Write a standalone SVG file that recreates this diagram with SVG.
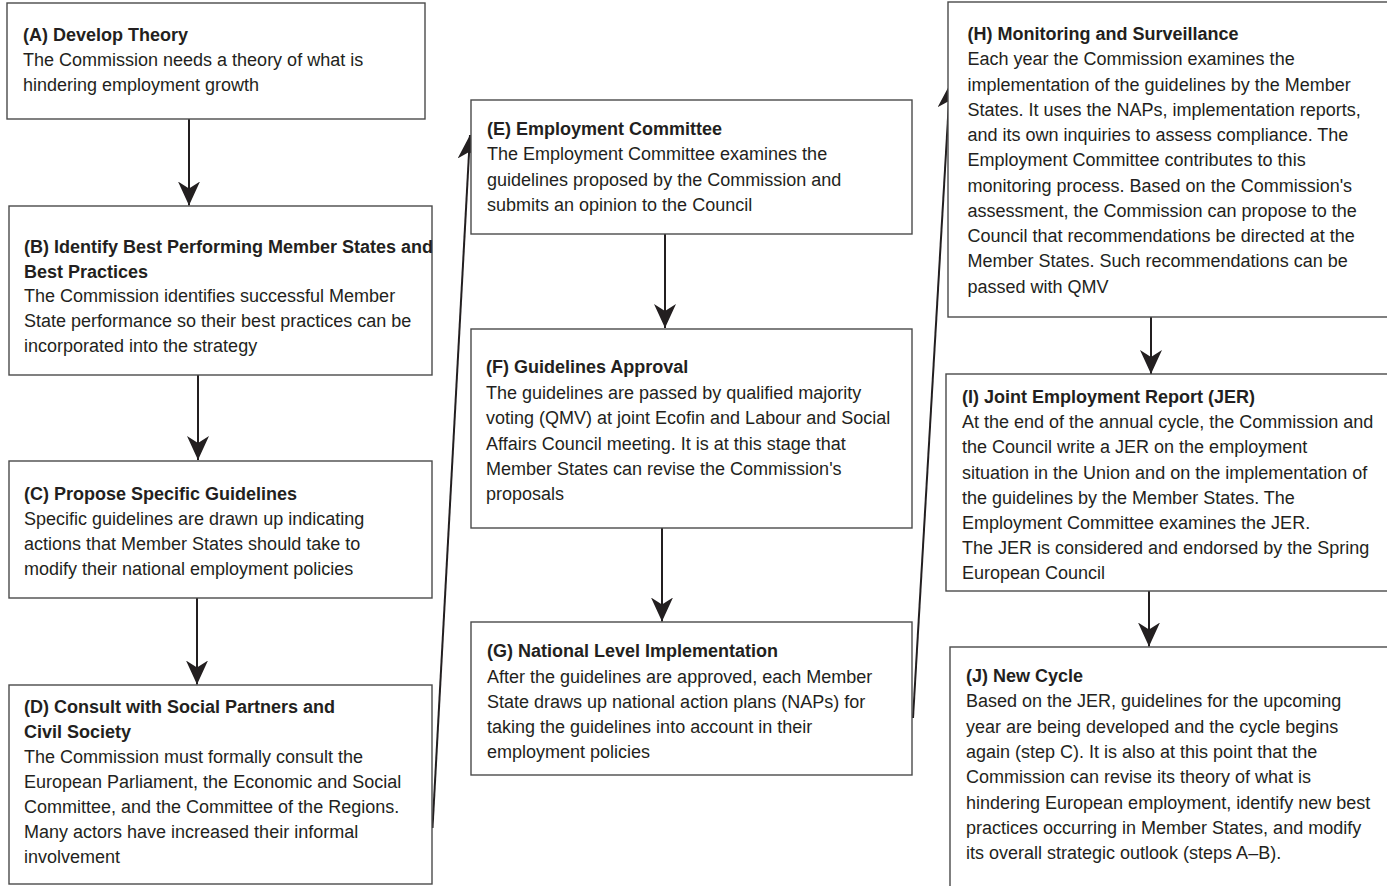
<svg xmlns="http://www.w3.org/2000/svg" width="1387" height="886" viewBox="0 0 1387 886">
<style>
.box{fill:#fff;stroke:#4a4a4a;stroke-width:1.4}
text{font-family:"Liberation Sans",Arial,sans-serif;font-size:18px;fill:#231f20}
.t{font-weight:bold}
.c{stroke:#231f20;stroke-width:2;fill:none;marker-end:url(#ah)}
</style>
<defs>
<marker id="ah" markerUnits="userSpaceOnUse" viewBox="0 0 24 22" markerWidth="24" markerHeight="22" refX="24" refY="11" orient="auto">
<path d="M0,0 L24,11 L0,22 L7,11 Z" fill="#231f20"/>
</marker>
</defs>
<rect width="1387" height="886" fill="#fff"/>
<g id="connectors">
<line class="c" x1="189" y1="119" x2="189" y2="205.5"/>
<line class="c" x1="198" y1="375" x2="198" y2="460"/>
<line class="c" x1="197" y1="598" x2="197" y2="684.5"/>
<line class="c" x1="432.5" y1="828" x2="470" y2="135"/>
<line class="c" x1="665" y1="234" x2="665" y2="328"/>
<line class="c" x1="662" y1="528" x2="662" y2="621.5"/>
<line class="c" x1="913" y1="718" x2="950" y2="84"/>
<line class="c" x1="1151" y1="317" x2="1151" y2="374"/>
<line class="c" x1="1149" y1="591" x2="1149" y2="646.5"/>
</g>
<g id="A">
<rect class="box" x="7" y="3" width="418" height="116"/>
<text x="23"><tspan class="t" y="40.5">(A) Develop Theory</tspan><tspan x="23" y="65.5">The Commission needs a theory of what is</tspan><tspan x="23" y="90.5">hindering employment growth</tspan></text>
</g>
<g id="B">
<rect class="box" x="9" y="206" width="423" height="169"/>
<text x="24"><tspan class="t" y="252.5">(B) Identify Best Performing Member States and</tspan><tspan class="t" x="24" y="277.5">Best Practices</tspan><tspan x="24" y="302">The Commission identifies successful Member</tspan><tspan x="24" y="327">State performance so their best practices can be</tspan><tspan x="24" y="352">incorporated into the strategy</tspan></text>
</g>
<g id="C">
<rect class="box" x="9" y="461" width="423" height="137"/>
<text x="24"><tspan class="t" y="500">(C) Propose Specific Guidelines</tspan><tspan x="24" y="525">Specific guidelines are drawn up indicating</tspan><tspan x="24" y="550">actions that Member States should take to</tspan><tspan x="24" y="575">modify their national employment policies</tspan></text>
</g>
<g id="D">
<rect class="box" x="9" y="685" width="423" height="199"/>
<text x="24"><tspan class="t" y="713">(D) Consult with Social Partners and</tspan><tspan class="t" x="24" y="738">Civil Society</tspan><tspan x="24" y="763">The Commission must formally consult the</tspan><tspan x="24" y="788">European Parliament, the Economic and Social</tspan><tspan x="24" y="813">Committee, and the Committee of the Regions.</tspan><tspan x="24" y="838">Many actors have increased their informal</tspan><tspan x="24" y="863">involvement</tspan></text>
</g>
<g id="E">
<rect class="box" x="471" y="100" width="441" height="134"/>
<text x="487"><tspan class="t" y="135">(E) Employment Committee</tspan><tspan x="487" y="160">The Employment Committee examines the</tspan><tspan x="487" y="185.5">guidelines proposed by the Commission and</tspan><tspan x="487" y="210.5">submits an opinion to the Council</tspan></text>
</g>
<g id="F">
<rect class="box" x="471" y="329" width="441" height="199"/>
<text x="486"><tspan class="t" y="372.5">(F) Guidelines Approval</tspan><tspan x="486" y="399">The guidelines are passed by qualified majority</tspan><tspan x="486" y="424">voting (QMV) at joint Ecofin and Labour and Social</tspan><tspan x="486" y="449.5">Affairs Council meeting. It is at this stage that</tspan><tspan x="486" y="475">Member States can revise the Commission's</tspan><tspan x="486" y="500">proposals</tspan></text>
</g>
<g id="G">
<rect class="box" x="471" y="622" width="441" height="153"/>
<text x="487"><tspan class="t" y="657">(G) National Level Implementation</tspan><tspan x="487" y="682.5">After the guidelines are approved, each Member</tspan><tspan x="487" y="707.5">State draws up national action plans (NAPs) for</tspan><tspan x="487" y="732.5">taking the guidelines into account in their</tspan><tspan x="487" y="757.5">employment policies</tspan></text>
</g>
<g id="H">
<rect class="box" x="948" y="2" width="445" height="315"/>
<text x="967.5"><tspan class="t" y="40">(H) Monitoring and Surveillance</tspan><tspan x="967.5" y="65.3">Each year the Commission examines the</tspan><tspan x="967.5" y="90.5">implementation of the guidelines by the Member</tspan><tspan x="967.5" y="115.8">States. It uses the NAPs, implementation reports,</tspan><tspan x="967.5" y="141">and its own inquiries to assess compliance. The</tspan><tspan x="967.5" y="166.3">Employment Committee contributes to this</tspan><tspan x="967.5" y="191.5">monitoring process. Based on the Commission's</tspan><tspan x="967.5" y="216.8">assessment, the Commission can propose to the</tspan><tspan x="967.5" y="242">Council that recommendations be directed at the</tspan><tspan x="967.5" y="267.3">Member States. Such recommendations can be</tspan><tspan x="967.5" y="292.5">passed with QMV</tspan></text>
</g>
<g id="I">
<rect class="box" x="946" y="374" width="445" height="217"/>
<text x="962"><tspan class="t" y="402.5">(I) Joint Employment Report (JER)</tspan><tspan x="962" y="428">At the end of the annual cycle, the Commission and</tspan><tspan x="962" y="453">the Council write a JER on the employment</tspan><tspan x="962" y="478.5">situation in the Union and on the implementation of</tspan><tspan x="962" y="504">the guidelines by the Member States. The</tspan><tspan x="962" y="529">Employment Committee examines the JER.</tspan><tspan x="962" y="554">The JER is considered and endorsed by the Spring</tspan><tspan x="962" y="579">European Council</tspan></text>
</g>
<g id="J">
<rect class="box" x="950" y="647" width="445" height="250"/>
<text x="966"><tspan class="t" y="681.5">(J) New Cycle</tspan><tspan x="966" y="707">Based on the JER, guidelines for the upcoming</tspan><tspan x="966" y="732.5">year are being developed and the cycle begins</tspan><tspan x="966" y="758">again (step C). It is also at this point that the</tspan><tspan x="966" y="783">Commission can revise its theory of what is</tspan><tspan x="966" y="808.5">hindering European employment, identify new best</tspan><tspan x="966" y="834">practices occurring in Member States, and modify</tspan><tspan x="966" y="859">its overall strategic outlook (steps A–B).</tspan></text>
</g>
</svg>
